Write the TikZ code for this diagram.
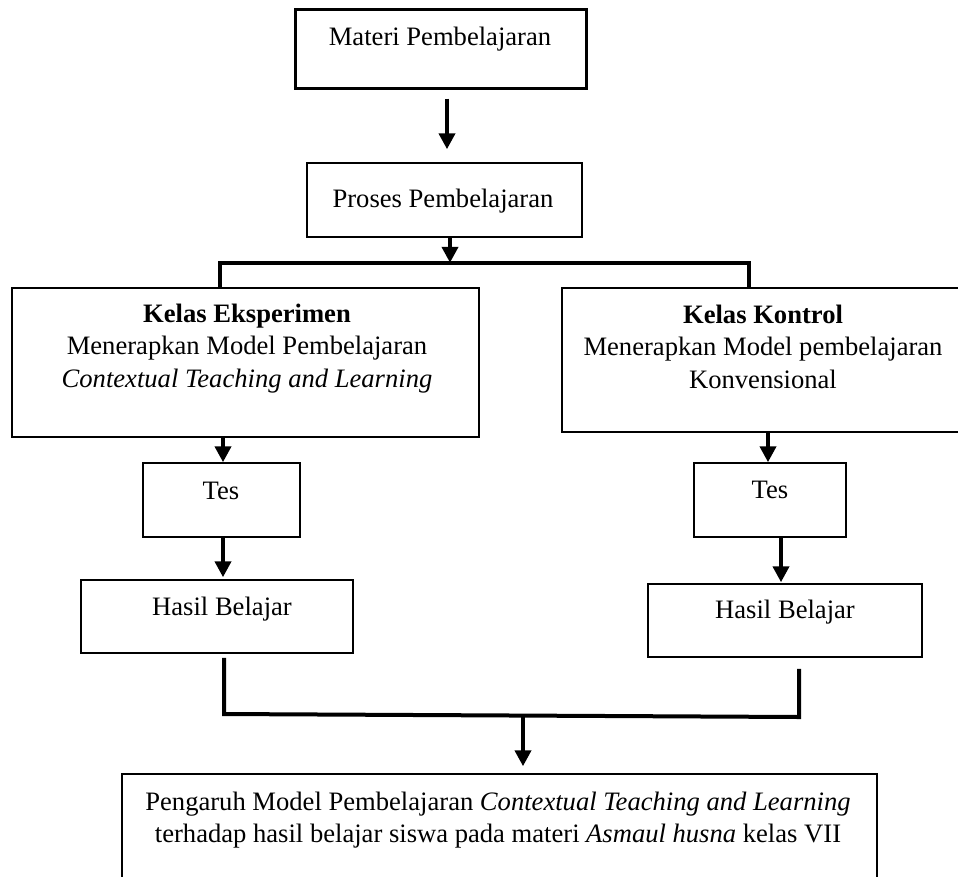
\documentclass[tikz,border=0pt]{standalone}
\usepackage{fontspec}
\setmainfont{Liberation Serif}
\usetikzlibrary{arrows.meta,calc}
\newcommand\tnrsize{\fontsize{26.6}{32.8}\selectfont}
\tikzset{
  every node/.style={font=\tnrsize},
  box/.style={draw, line width=1.5pt, inner sep=0pt},
  heavybox/.style={draw, line width=3pt, inner sep=0pt},
  arr/.style={line width=4pt, -{Triangle[width=16pt,length=16pt]}},
  conn/.style={line width=4pt, line join=miter},
  lbl/.style={anchor=base, inner sep=0pt}
}
\begin{document}
\begin{tikzpicture}[x=1pt,y=-1pt]
\useasboundingbox (0,0) rectangle (958,876);
% boxes
\node[heavybox, minimum width=291pt, minimum height=79pt] (materi) at (440.5,48.5) {};
\node[box, minimum width=275pt, minimum height=74pt] (proses) at (444.5,200) {};
\node[box, minimum width=467pt, minimum height=149pt] (eksp) at (245.5,362.5) {};
\node[box, minimum width=402pt, minimum height=144pt] (kontrol) at (763,360) {};
\node[box, minimum width=157pt, minimum height=74pt] (tesA) at (221.5,500) {};
\node[box, minimum width=272pt, minimum height=73pt] (hasilA) at (217,616.5) {};
\node[box, minimum width=152pt, minimum height=74pt] (tesB) at (770,500) {};
\node[box, minimum width=274pt, minimum height=73pt] (hasilB) at (785,620.5) {};
\node[box, minimum width=755pt, minimum height=126pt] (final) at (499.5,837) {};
% texts
\node[lbl] (materiT) at (440,45) {Materi Pembelajaran};
\node[lbl] (prosesT) at (443,207) {Proses Pembelajaran};
\node[lbl] (ekspT) at (247,322) {\begin{tabular}[t]{@{}c@{}}\textbf{Kelas Eksperimen}\\ Menerapkan Model Pembelajaran\\ \textit{Contextual Teaching and Learning}\end{tabular}};
\node[lbl] (kontrolT) at (763,323) {\begin{tabular}[t]{@{}c@{}}\textbf{Kelas Kontrol}\\ Menerapkan Model pembelajaran\\ Konvensional\end{tabular}};
\node[lbl] (tesAT) at (221,499) {Tes};
\node[lbl] (hasilAT) at (222,615) {Hasil Belajar};
\node[lbl] (tesBT) at (770,498) {Tes};
\node[lbl] (hasilBT) at (785,618) {Hasil Belajar};
\node[lbl] (finalT) at (498,810) {\begin{tabular}[t]{@{}c@{}}Pengaruh Model Pembelajaran \textit{Contextual Teaching and Learning}\\ terhadap hasil belajar siswa pada materi \textit{Asmaul husna} kelas VII\end{tabular}};
% join coordinates
\coordinate (topL) at (220,263);
\coordinate (topR) at (749,263);
\coordinate (botL) at (224,714);
\coordinate (botR) at (799,717);
% connectors
\draw[arr] ($(materi.south)+(6.5,9)$) -- ($(proses.north)+(2.5,-13)$);
\draw[arr] ($(proses.south)+(5.5,0)$) -- ($(proses.south)+(5.5,25)$);
\draw[conn] (eksp.north -| topL) -- (topL) -- (topR) -- (kontrol.north -| topR);
\draw[arr] ($(eksp.south)+(-22.5,0)$) -- ($(tesA.north)+(1.5,0)$);
\draw[arr] ($(tesA.south)+(1.5,0)$) -- ($(hasilA.north)+(6,-2)$);
\draw[arr] ($(kontrol.south)+(5,0)$) -- ($(tesB.north)+(-2,0)$);
\draw[arr] ($(tesB.south)+(11,0)$) -- ($(hasilB.north)+(-4,-1)$);
\draw[conn] ($(hasilA.south)+(7,4)$) -- (botL) -- (botR) -- ($(hasilB.south)+(14,11)$);
\draw[arr] ($(final.north)+(23.5,-58.5)$) -- ($(final.north)+(23.5,-7)$);
\end{tikzpicture}
\end{document}
